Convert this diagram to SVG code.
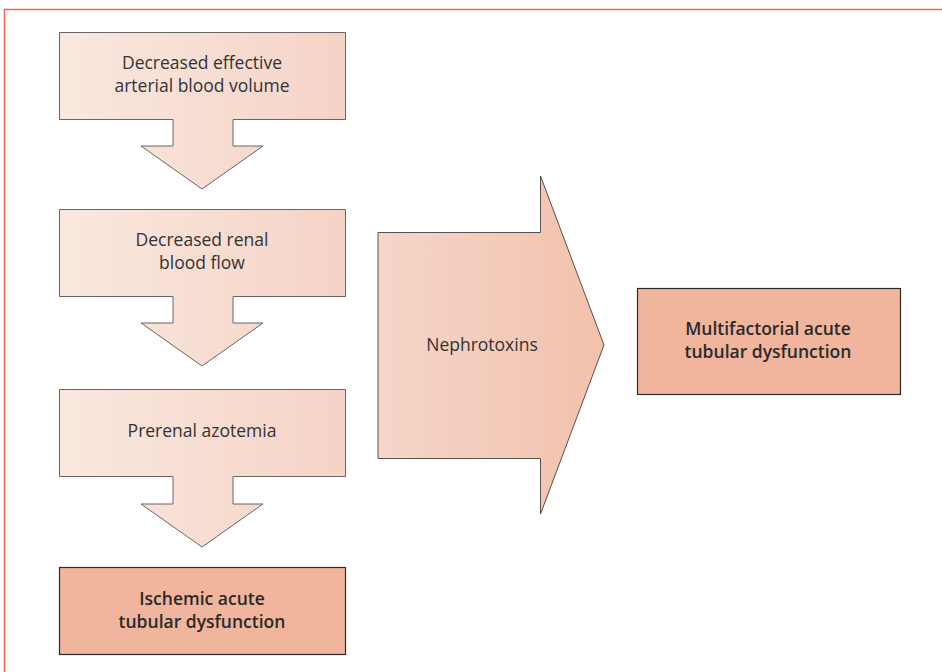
<svg xmlns="http://www.w3.org/2000/svg" width="942" height="672" viewBox="0 0 942 672">
<defs>
<linearGradient id="gBig" gradientUnits="userSpaceOnUse" x1="378" y1="0" x2="604" y2="0">
<stop offset="0" stop-color="#f5d6c9"/>
<stop offset="1" stop-color="#f2c1ac"/>
</linearGradient>
<linearGradient id="gA" gradientUnits="userSpaceOnUse" x1="59" y1="0" x2="346" y2="0">
<stop offset="0" stop-color="#fae8df"/>
<stop offset="1" stop-color="#f5d3c6"/>
</linearGradient>
</defs>
<style>
.frame{fill:none;stroke:#e8694a;stroke-width:1.5}
.light{fill:url(#gA);stroke:#6b6464;stroke-width:1}
.big{fill:url(#gBig);stroke:#5a5050;stroke-width:1}
.dark{fill:#f1b59d;stroke:#2b2b2b;stroke-width:1.2}
.t{font-family:"Open Sans","Liberation Sans",sans-serif;font-size:17.5px;fill:#333;text-anchor:middle}
.tb{font-family:"Open Sans","Liberation Sans",sans-serif;font-size:17.5px;font-weight:600;fill:#2a2a2a;text-anchor:middle}
</style>
<path class="frame" d="M942 9.5 H4.5 V672"/>
<g id="n1">
<path class="light" d="M59.5 32.5 H345.5 V119.5 H233 V146 H263 L202 189 L141 146 H173 V119.5 H59.5 Z"/>
<text class="t" x="202" y="69">Decreased effective</text>
<text class="t" x="202" y="92">arterial blood volume</text>
</g>
<g id="n2">
<path class="light" d="M59.5 209.5 H345.5 V296.5 H233 V323 H263 L202 366 L141 323 H173 V296.5 H59.5 Z"/>
<text class="t" x="202" y="246">Decreased renal</text>
<text class="t" x="202" y="269">blood flow</text>
</g>
<g id="n3">
<path class="light" d="M59.5 389.5 H345.5 V476.5 H233 V504 H263 L202 547 L141 504 H173 V476.5 H59.5 Z"/>
<text class="t" x="202" y="437">Prerenal azotemia</text>
</g>
<g id="n4">
<rect class="dark" x="59.5" y="567.5" width="286" height="87"/>
<text class="tb" x="202" y="605">Ischemic acute</text>
<text class="tb" x="202" y="628">tubular dysfunction</text>
</g>
<g id="n5">
<path class="big" d="M378 232.5 H540.5 V176 L604 345 L540.5 514 V458.5 H378 Z"/>
<text class="t" x="482" y="351">Nephrotoxins</text>
</g>
<g id="n6">
<rect class="dark" x="637.5" y="288.5" width="263" height="106"/>
<text class="tb" x="768" y="335">Multifactorial acute</text>
<text class="tb" x="768" y="358">tubular dysfunction</text>
</g>
<g id="connectors"></g>
</svg>
